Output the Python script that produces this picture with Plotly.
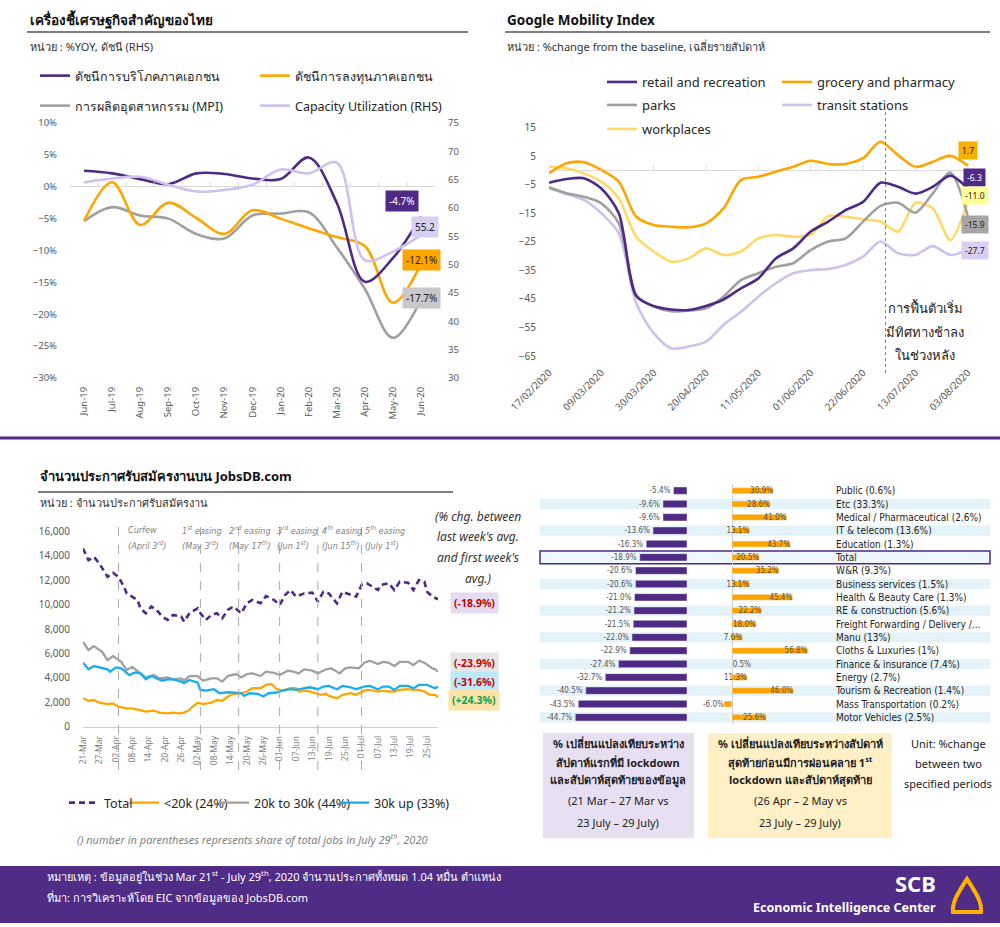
import plotly.graph_objects as go
import pandas as pd

W, H = 1000, 927
def X(px): return px / W
def Y(py): return 1 - py / H

FONT = "Tahoma, 'Noto Sans', 'DejaVu Sans', sans-serif"
NARROW = "'DejaVu Sans Condensed', 'DejaVu Sans', sans-serif"
PURPLE = '#4E2A84'
ORANGE = '#FFA500'
GRAY = '#A0A0A0'
LAV = '#CEC1EB'
YEL = '#FFD966'
BLUE = '#18AEEE'
TXT = '#262626'
TICK = '#595959'

# ---------------- Panel 1 : Thai economic indicators ----------------
months = ['Jun-19', 'Jul-19', 'Aug-19', 'Sep-19', 'Oct-19', 'Nov-19', 'Dec-19',
          'Jan-20', 'Feb-20', 'Mar-20', 'Apr-20', 'May-20', 'Jun-20']
pci = [2.5, 2.1, 1.2, 0.4, 2.1, 2.0, 1.3, 1.2, 4.6, -2.5, -14.9, -11.2, -4.7]
pii = [-5.4, 0.7, -6.0, -2.5, -4.9, -7.4, -3.7, -5.0, -6.5, -7.9, -9.3, -18.2, -12.1]
mpi = [-5.4, -3.2, -4.5, -5.0, -7.4, -8.1, -4.5, -4.2, -4.0, -9.5, -16.0, -23.7, -17.7]
capu = [64.5, 65.2, 65.5, 64.1, 62.9, 63.2, 64.1, 66.8, 66.1, 68.0, 50.8, 52.3, 55.2]
p1_names = ['ดัชนีการบริโภคภาคเอกชน', 'ดัชนีการลงทุนภาคเอกชน',
            'การผลิตอุตสาหกรรม (MPI)', 'Capacity Utilization (RHS)']

# ---------------- Panel 2 : Google mobility (weekly) ----------------
mob_start = '2020-02-17'
mob_weeks = 25
retail = [-4.3, -3.0, -2.7, -6.3, -15.0, -44.0, -47.5, -48.7, -48.9, -47.5, -45.2, -41.3, -37.8,
          -30.8, -27.3, -21.4, -17.9, -13.9, -11.0, -4.3, -5.7, -8.1, -5.7, -1.8, -6.3]
grocery = [-1.0, 2.5, 2.9, 0.2, -3.9, -16.2, -19.1, -19.7, -19.9, -18.5, -13.3, -3.3, -2.2,
           -0.4, 1.3, 3.4, 2.3, 2.3, 4.3, 10.1, 5.4, 1.3, 3.1, 5.2, 1.7]
parks = [-5.9, -8.0, -9.2, -11.5, -18.5, -43.6, -47.7, -49.3, -49.1, -48.3, -44.2, -38.4, -36.0,
         -33.7, -32.5, -27.9, -24.9, -23.8, -17.9, -12.4, -11.3, -14.8, -8.0, -0.7, -15.9]
transit = [-6.2, -8.2, -10.3, -15.0, -22.0, -46.5, -57.0, -62.3, -61.7, -60.0, -54.1, -49.5, -44.2,
           -39.5, -36.0, -34.9, -34.5, -33.1, -30.2, -24.9, -29.0, -29.6, -26.5, -29.6, -27.7]
workplaces = [1.3, 0.8, -1.0, -3.9, -9.8, -23.2, -28.4, -31.9, -30.8, -27.3, -29.6, -28.4, -23.8,
              -22.6, -23.2, -22.5, -16.0, -16.2, -17.1, -17.9, -21.4, -11.4, -13.3, -24.4, -11.0]
mob_names = ['retail and recreation', 'grocery and pharmacy', 'parks', 'transit stations', 'workplaces']
mob_note = ['การฟื้นตัวเริ่ม', 'มีทิศทางช้าลง', 'ในช่วงหลัง']
mob_marker_date = '2020-07-01'

# ---------------- Panel 3 : JobsDB postings (daily, day offset from 21 Mar) ----------------
jobs_start = '2020-03-21'
total_days = [0, 2, 4, 6, 9, 11, 13, 15, 16, 18, 20, 21, 23, 25, 27, 29, 31, 33, 36, 37,
              39, 42, 43, 45, 47, 49, 51, 53, 55, 58, 60, 62, 65, 67, 70, 72, 74, 76, 78, 81,
              84, 86, 88, 90, 93, 95, 98, 100, 102, 104, 106, 108, 109, 112, 114, 116, 119, 121, 123, 125,
              126, 128, 130]
total_jobs = [14610, 13650, 13920, 13370, 12280, 12610, 12280, 11460, 10920, 10650,
              10380, 9700, 9290, 9840, 9560, 9020, 8740, 9150, 9020, 8610,
              9290, 9700, 9290, 8740, 9150, 9290, 8880, 9560, 9840, 9290,
              10110, 10380, 10110, 10700, 10380, 9970, 10790, 11200, 10650, 10920,
              10980, 10240, 11060, 10920, 10110, 11060, 10790, 10650, 11610, 11750,
              11470, 11200, 11610, 11750, 11200, 11880, 11800, 11200, 12020, 11880,
              11060, 10650, 10440]
mid_days = [0, 2, 4, 7, 9, 11, 14, 16, 18, 21, 23, 26, 28, 31, 33, 36, 37, 39, 42, 44,
            47, 49, 51, 53, 56, 58, 60, 62, 65, 67, 70, 72, 75, 77, 79, 81, 84, 86, 89, 91,
            94, 96, 98, 101, 103, 105, 108, 110, 112, 114, 116, 119, 121, 123, 125, 128, 129, 130]
mid_jobs = [6950, 6270, 6600, 6130, 5450, 5780, 5310, 4630, 4900, 4360,
            4030, 4220, 3950, 4030, 3870, 3950, 3760, 4140, 4140, 3760,
            3950, 3950, 3680, 4140, 4300, 4030, 4300, 4360, 4140, 4500,
            4410, 4220, 4580, 4500, 4360, 4690, 4580, 4360, 4690, 4770,
            4360, 4770, 4850, 4770, 5230, 5400, 5130, 5310, 5230, 4960,
            5310, 5310, 5040, 5400, 5230, 4770, 4690, 4500]
high_days = [0, 2, 4, 6, 9, 10, 12, 14, 15, 17, 19, 21, 23, 25, 27, 29, 31, 33, 36, 37,
             39, 42, 43, 45, 48, 50, 53, 55, 58, 59, 61, 64, 66, 68, 71, 73, 76, 78, 81, 83,
             86, 88, 90, 93, 95, 98, 100, 103, 105, 108, 110, 112, 114, 116, 119, 121, 123, 126, 128, 129,
             130]
high_jobs = [5230, 4690, 4960, 4850, 4690, 4500, 4850, 4770, 4580, 4220,
             4440, 4360, 3870, 4140, 3950, 3760, 3870, 3870, 3680, 3550,
             3820, 3600, 3000, 2940, 3060, 2730, 2810, 2790, 2730, 2510,
             2730, 2680, 2460, 2730, 2790, 2940, 3060, 3000, 3140, 3220,
             3060, 3280, 3330, 3060, 3330, 3220, 3060, 3280, 3330, 3060,
             3280, 3280, 3000, 3330, 3330, 3140, 3410, 3410, 3220, 3140,
             3280]
low_days = [0, 2, 4, 6, 9, 11, 13, 16, 18, 21, 23, 26, 28, 31, 33, 35, 37, 39, 40, 42,
            44, 47, 49, 51, 53, 55, 58, 60, 62, 65, 67, 69, 71, 73, 76, 78, 79, 82, 84, 87,
            89, 90, 93, 95, 98, 100, 103, 105, 108, 110, 112, 114, 116, 119, 121, 123, 125, 127, 129, 130]
low_jobs = [2310, 2110, 2170, 1950, 1840, 1900, 1620, 1490, 1490, 1300,
            1220, 1300, 1140, 1080, 1140, 1080, 1140, 1360, 1620, 1950,
            1840, 1950, 2170, 2110, 2440, 2680, 2730, 2870, 3140, 3140,
            3410, 3490, 3060, 2940, 3140, 3140, 2870, 2940, 2790, 2600,
            2680, 2510, 2310, 2600, 2730, 2600, 2940, 3000, 2870, 2940,
            2870, 2870, 3000, 3060, 3000, 3000, 2870, 2600, 2600, 2390]
jobs_names = ['Total', '<20k (24%)', '20k to 30k (44%)', '30k up (33%)']
jobs_chg = ['(-18.9%)', '(-23.9%)', '(-31.6%)', '(+24.3%)']
ease_dates = ['2020-04-03', '2020-05-03', '2020-05-17', '2020-06-01', '2020-06-15', '2020-07-01']
ease_l1 = ['Curfew', '1<sup>st</sup> easing', '2<sup>nd</sup> easing', '3<sup>rd</sup> easing',
           '4<sup>th</sup> easing', '5<sup>th</sup> easing']
ease_l2 = ['(April 3<sup>rd</sup>)', '(May 3<sup>rd</sup>)', '(May 17<sup>th</sup>)',
           '(Jun 1<sup>st</sup>)', '(Jun 15<sup>th</sup>)', '(July 1<sup>st</sup>)']

# ---------------- Panel 4 : change by industry ----------------
industries = ['Public (0.6%)', 'Etc (33.3%)', 'Medical / Pharmaceutical (2.6%)', 'IT & telecom (13.6%)',
              'Education (1.3%)', 'Total', 'W&R (9.3%)', 'Business services (1.5%)',
              'Health & Beauty Care (1.3%)', 'RE & construction (5.6%)',
              'Freight Forwarding / Delivery /...', 'Manu (13%)', 'Cloths & Luxuries (1%)',
              'Finance & insurance (7.4%)', 'Energy (2.7%)', 'Tourism & Recreation (1.4%)',
              'Mass Transportation (0.2%)', 'Motor Vehicles (2.5%)']
chg_lockdown = [-5.4, -9.6, -9.6, -13.6, -16.3, -18.9, -20.6, -20.6, -21.0, -21.2,
                -21.5, -22.0, -22.9, -27.4, -32.7, -40.5, -43.5, -44.7]
chg_easing = [30.9, 28.6, 41.0, 13.1, 43.7, 20.5, 35.2, 13.1, 45.4, 22.2,
              18.0, 7.6, 56.8, 0.5, 11.3, 46.0, -6.0, 25.6]

# =====================================================================
fig = go.Figure()

# ---- panel 1 traces
p1_series = [(capu, p1_names[3], LAV, 'y2', 'legend2', 2),
             (mpi, p1_names[2], GRAY, 'y', 'legend2', 1),
             (pii, p1_names[1], ORANGE, 'y', 'legend', 2),
             (pci, p1_names[0], PURPLE, 'y', 'legend', 1)]
for vals, nm, col, yax, lg, rk in p1_series:
    fig.add_trace(go.Scatter(x=months, y=vals, name=nm, mode='lines',
                             line=dict(color=col, width=2.6, shape='spline', smoothing=1.0),
                             xaxis='x', yaxis=yax, legend=lg, legendrank=rk, hoverinfo='skip'))

# ---- panel 2 traces
mob_dates = pd.date_range(mob_start, periods=mob_weeks, freq='7D')
p2_series = [(transit, mob_names[3], LAV, 'legend11'),
             (workplaces, mob_names[4], YEL, 'legend5'),
             (parks, mob_names[2], GRAY, 'legend4'),
             (grocery, mob_names[1], ORANGE, 'legend10'),
             (retail, mob_names[0], PURPLE, 'legend3')]
for vals, nm, col, lg in p2_series:
    fig.add_trace(go.Scatter(x=mob_dates, y=vals, name=nm, mode='lines',
                             line=dict(color=col, width=2.6, shape='spline', smoothing=0.8),
                             xaxis='x2', yaxis='y3', legend=lg, hoverinfo='skip'))

# ---- panel 3 traces
j0 = pd.Timestamp(jobs_start)
def to_dates(days):
    return [j0 + pd.Timedelta(days=d) for d in days]
p3_series = [(low_days, low_jobs, jobs_names[1], ORANGE, 'solid', 'legend7'),
             (mid_days, mid_jobs, jobs_names[2], GRAY, 'solid', 'legend8'),
             (high_days, high_jobs, jobs_names[3], BLUE, 'solid', 'legend9'),
             (total_days, total_jobs, jobs_names[0], PURPLE, '6px,4px', 'legend6')]
for dd, vals, nm, col, dash, lg in p3_series:
    fig.add_trace(go.Scatter(x=to_dates(dd), y=vals, name=nm, mode='lines',
                             line=dict(color=col, width=2.3 if dash == 'solid' else 2.6, dash=dash),
                             xaxis='x3', yaxis='y4', legend=lg, hoverinfo='skip'))

# ---- panel 4 traces
fig.add_trace(go.Bar(x=chg_lockdown, y=industries, orientation='h', marker_color=PURPLE,
                     width=0.55, text=[f'{v:.1f}%' for v in chg_lockdown], textposition='outside',
                     textfont=dict(size=8, color='#555555', family=NARROW), cliponaxis=False,
                     constraintext='none', xaxis='x4', yaxis='y5', showlegend=False, hoverinfo='skip'))
easing_pos = ['outside' if (v < 0 or abs(v) < 5) else 'inside' for v in chg_easing]
fig.add_trace(go.Bar(x=chg_easing, y=industries, orientation='h', marker_color=ORANGE,
                     width=0.45, text=[f'{v:.1f}%' for v in chg_easing], textposition=easing_pos,
                     insidetextanchor='end', textfont=dict(size=8, color='#555555', family=NARROW),
                     insidetextfont=dict(size=8, color='#555555', family=NARROW),
                     outsidetextfont=dict(size=8, color='#555555', family=NARROW),
                     cliponaxis=False, constraintext='none',
                     xaxis='x5', yaxis='y5', showlegend=False, hoverinfo='skip'))

# =====================================================================
shapes = []
ann = []

def text(px, py, s, size=11, color=TXT, xanchor='left', yanchor='middle', bg=None, family=FONT, **kw):
    d = dict(x=X(px), y=Y(py), xref='paper', yref='paper', text=s, showarrow=False,
             xanchor=xanchor, yanchor=yanchor, font=dict(size=size, color=color, family=family))
    if bg:
        d['bgcolor'] = bg
    d.update(kw)
    ann.append(d)

def hline(px0, px1, py, color='#000000', width=1.2):
    shapes.append(dict(type='line', xref='paper', yref='paper', x0=X(px0), x1=X(px1),
                       y0=Y(py), y1=Y(py), line=dict(color=color, width=width)))

def rect(px0, py0, px1, py1, fill, line_color=None, width=0):
    shapes.append(dict(type='rect', xref='paper', yref='paper', x0=X(px0), x1=X(px1),
                       y0=Y(py1), y1=Y(py0), fillcolor=fill,
                       line=dict(color=line_color or fill, width=width)))

# ---- headers
text(28, 20, '<b>เครื่องชี้เศรษฐกิจสำคัญของไทย</b>', size=13.5, color='#111111')
hline(27, 468, 32)
text(28, 46, 'หน่วย : %YOY, ดัชนี (RHS)', size=11, color='#333333')

text(505, 20, '<b>Google Mobility Index</b>', size=13.5, color='#111111')
hline(505, 990, 32)
text(505, 46, 'หน่วย : %change from the baseline, เฉลี่ยรายสัปดาห์', size=11, color='#333333')

hline(0, 1000, 438, color=PURPLE, width=3)

text(38, 476, '<b>จำนวนประกาศรับสมัครงานบน JobsDB.com</b>', size=13, color='#111111')
hline(38, 453, 492)
text(38, 502, 'หน่วย : จำนวนประกาศรับสมัครงาน', size=11, color='#333333')

# ---- panel 1 decorations: ticks on the 0% line, end labels
for k in range(len(months) + 1):
    shapes.append(dict(type='line', xref='x', yref='y', x0=k - 0.5, x1=k - 0.5, y0=0, y1=0.7,
                       line=dict(color='#D9D9D9', width=1)))
p1_labels = [(pci[-1], 'y', f'{pci[-1]:.1f}%', PURPLE, '#FFFFFF', -19, 16),
             (capu[-1], 'y2', f'{capu[-1]:.1f}', '#D9CFF1', '#222222', 4, 8),
             (pii[-1], 'y', f'{pii[-1]:.1f}%', ORANGE, '#222222', 1, 4),
             (mpi[-1], 'y', f'{mpi[-1]:.1f}%', '#C8C8C8', '#222222', 1, 2)]
for v, yr, s, bg, fc, xs, ys in p1_labels:
    ann.append(dict(x=months[-1], y=v, xref='x', yref=yr, text=s, showarrow=False,
                    xshift=xs, yshift=ys, bgcolor=bg, borderpad=3,
                    font=dict(size=10, color=fc, family=FONT)))

# ---- panel 2 decorations
for d in pd.date_range(mob_start, mob_dates[-1], freq='21D'):
    shapes.append(dict(type='line', xref='x2', yref='y3', x0=d, x1=d, y0=0, y1=1.8,
                       line=dict(color='#D9D9D9', width=1)))
shapes.append(dict(type='line', xref='x2', yref='paper', x0=mob_marker_date, x1=mob_marker_date,
                   y0=Y(373), y1=Y(112), line=dict(color='#7F7F7F', width=1, dash='dot')))
p2_labels = [(grocery[-1], '#F5B000', '#222222', 0, 15),
             (retail[-1], PURPLE, '#FFFFFF', 7, 11),
             (workplaces[-1], '#FFFF99', '#222222', 7, 6),
             (parks[-1], '#A6A6A6', '#222222', 7, -9),
             (transit[-1], '#D9CFF1', '#222222', 7, -1)]
for v, bg, fc, xs, ys in p2_labels:
    ann.append(dict(x=mob_dates[-1], y=v, xref='x2', yref='y3', text=f'{v:.1f}', showarrow=False,
                    xshift=xs, yshift=ys, bgcolor=bg, borderpad=3,
                    font=dict(size=8.5, color=fc, family=FONT)))
for i, s in enumerate(mob_note):
    text(925, 308 + 23.5 * i, s, size=13, color='#222222', xanchor='center')

# ---- panel 3 decorations
for i, d in enumerate(ease_dates):
    shapes.append(dict(type='line', xref='x3', yref='paper', x0=d, x1=d, y0=Y(770), y1=Y(523),
                       line=dict(color='#AAAAAA', width=1, dash='dash')))
ease_px = [126, 180, 227, 275, 320, 363]
for i in range(len(ease_dates)):
    text(ease_px[i], 530, '<i>' + ease_l1[i] + '</i>', size=9, color='#7F7F7F', family=NARROW)
    text(ease_px[i], 545, '<i>' + ease_l2[i] + '</i>', size=9, color='#7F7F7F', family=NARROW)
for i, s in enumerate(['(% chg. between', "last week's avg.", "and first week's", 'avg.)']):
    text(478, 516 + 20.7 * i, '<i>' + s + '</i>', size=12, color='#333333', xanchor='center')
chg_style = [(603, '#E4DDF2', '#C00000'), (663, '#E6E6E6', '#C00000'),
             (682, '#BDE9FA', '#C00000'), (700, '#FFE2A6', '#00A651')]
for s, (py, bg, fc) in zip(jobs_chg, chg_style):
    text(474, py, '<b>' + s + '</b>', size=10.5, color=fc, xanchor='center', bg=bg, borderpad=3)
text(75, 839, '<i>() number in parentheses represents share of total jobs in July 29<sup>th</sup>, 2020</i>',
     size=11, color='#7F7F7F')

# ---- panel 4 decorations
for i in range(len(industries)):
    if i % 2 == 1:
        shapes.append(dict(type='rect', xref='paper', yref='y5', x0=X(540), x1=X(990),
                           y0=i - 0.38, y1=i + 0.38, fillcolor='#E4F3FA', line=dict(width=0),
                           layer='below'))
ti = industries.index('Total')
shapes.append(dict(type='rect', xref='paper', yref='y5', x0=X(540), x1=X(990),
                   y0=ti - 0.48, y1=ti + 0.48, fillcolor='#EEF7FC',
                   line=dict(color=PURPLE, width=1.5), layer='below'))

rect(543, 733, 694, 838, '#E6E0F2')
rect(708, 733, 892, 838, '#FFF0C6')
box1 = ['<b>% เปลี่ยนแปลงเทียบระหว่าง</b>', '<b>สัปดาห์แรกที่มี lockdown</b>',
        '<b>และสัปดาห์สุดท้ายของข้อมูล</b>', '(21 Mar – 27 Mar vs', '23 July – 29 July)']
box2 = ['<b>% เปลี่ยนแปลงเทียบระหว่างสัปดาห์</b>', '<b>สุดท้ายก่อนมีการผ่อนคลาย 1<sup>st</sup></b>',
        '<b>lockdown และสัปดาห์สุดท้าย</b>', '(26 Apr – 2 May vs', '23 July – 29 July)']
line_y = [743, 762, 780, 800, 822]
for s, py in zip(box1, line_y):
    text(618, py, s, size=11, color='#222222', xanchor='center')
for s, py in zip(box2, line_y):
    text(800, py, s, size=11, color='#222222', xanchor='center')
for s, py in zip(['Unit: %change', 'between two', 'specified periods'], [743, 763, 783]):
    text(948, py, s, size=11, color='#222222', xanchor='center')

# ---- footer
rect(0, 866, 1000, 923, '#4F2C85')
text(45, 876, 'หมายเหตุ : ข้อมูลอยู่ในช่วง Mar 21<sup>st</sup> - July 29<sup>th</sup>, 2020 '
     'จำนวนประกาศทั้งหมด 1.04 หมื่น ตำแหน่ง', size=11, color='#FFFFFF')
text(45, 897, 'ที่มา: การวิเคราะห์โดย EIC จากข้อมูลของ JobsDB.com', size=11, color='#FFFFFF')
text(938, 883, '<b>SCB</b>', size=22, color='#FFFFFF', xanchor='right')
text(938, 907, '<b>Economic Intelligence Center</b>', size=12.5, color='#FFFFFF', xanchor='right')
logo = [(953, 912), (952, 902), (958, 893), (967, 879), (976, 893), (982, 902), (981, 912)]
path = 'M {:.4f},{:.4f} '.format(X(logo[0][0]), Y(logo[0][1]))
path += 'C {:.4f},{:.4f} {:.4f},{:.4f} {:.4f},{:.4f} '.format(X(logo[1][0]), Y(logo[1][1]), X(logo[2][0]), Y(logo[2][1]), X(logo[3][0]), Y(logo[3][1]))
path += 'C {:.4f},{:.4f} {:.4f},{:.4f} {:.4f},{:.4f} Z'.format(X(logo[4][0]), Y(logo[4][1]), X(logo[5][0]), Y(logo[5][1]), X(logo[6][0]), Y(logo[6][1]))
shapes.append(dict(type='path', xref='paper', yref='paper', path=path,
                   line=dict(color='#FFB000', width=4)))

# =====================================================================
tickf = dict(size=9.5, color=TICK, family=FONT)
leg_common = dict(orientation='h', xanchor='left', yanchor='middle', bgcolor='rgba(0,0,0,0)',
                  traceorder='normal', itemwidth=30, entrywidthmode='pixels')
leg_jobs = dict(orientation='h', xanchor='left', yanchor='middle', bgcolor='rgba(0,0,0,0)',
                itemwidth=30, font=dict(size=12.5, color=TXT, family=FONT))
leg_mob = dict(orientation='h', xanchor='left', yanchor='middle', bgcolor='rgba(0,0,0,0)',
               itemwidth=30, font=dict(size=13, color=TXT, family=FONT))

fig.update_layout(
    width=W, height=H, margin=dict(l=0, r=0, t=0, b=0, autoexpand=False),
    paper_bgcolor='white', plot_bgcolor='rgba(0,0,0,0)',
    font=dict(family=FONT, color=TXT),
    showlegend=True,
    uniformtext=dict(minsize=8, mode='show'),
    barmode='overlay',
    # panel 1
    xaxis=dict(domain=[X(70), X(435)], type='category', range=[-0.5, 12.5], tickangle=-90,
               tickfont=tickf, showgrid=False, zeroline=False, showline=False, ticks='',
               anchor='y', ticklabelstandoff=6, automargin=False),
    yaxis=dict(domain=[Y(378), Y(123)], range=[-30, 10], dtick=5, ticksuffix='%', tickfont=tickf,
               showgrid=False, zeroline=True, zerolinecolor='#D9D9D9', zerolinewidth=1,
               anchor='x', ticklabelstandoff=12, automargin=False),
    yaxis2=dict(overlaying='y', side='right', range=[30, 75], dtick=5, tickfont=tickf,
                showgrid=False, zeroline=False, anchor='x', ticklabelstandoff=12, automargin=False),
    # panel 2
    xaxis2=dict(domain=[X(549), X(969)], type='date', range=['2020-02-17', '2020-08-03 12:00'],
                tick0=mob_start, dtick=21 * 86400000, tickformat='%d/%m/%Y', tickangle=-45,
                tickfont=dict(size=10, color=TICK, family=FONT), showgrid=False, zeroline=False,
                showline=False, ticks='', anchor='y3', ticklabelstandoff=8, automargin=False),
    yaxis3=dict(domain=[Y(356), Y(127.7)], range=[-65, 15], tick0=5, dtick=10,
                tickfont=dict(size=10, color=TICK, family=FONT), showgrid=False, zeroline=True,
                zerolinecolor='#D9D9D9', zerolinewidth=1, anchor='x2', ticklabelstandoff=12,
                automargin=False),
    # panel 3
    xaxis3=dict(domain=[X(83), X(438)], type='date', range=['2020-03-21', '2020-07-29'],
                tick0=jobs_start, dtick=6 * 86400000, tickformat='%d-%b', tickangle=-90,
                tickfont=dict(size=8.5, color='#7F7F7F', family=FONT), showgrid=False,
                zeroline=False, showline=True, linecolor='#D0D0D0', ticks='', anchor='y4',
                ticklabelstandoff=5, automargin=False),
    yaxis4=dict(domain=[Y(726.5), Y(531.5)], range=[0, 16000], dtick=2000, tickformat=',',
                tickfont=dict(size=10, color=TICK, family=FONT), showgrid=False, zeroline=False,
                anchor='x3', ticklabelstandoff=12, automargin=False),
    # panel 4
    xaxis4=dict(domain=[X(540), X(687)], range=[-58.8, 0], visible=False, anchor='y5',
                automargin=False),
    xaxis5=dict(domain=[X(700), X(835)], range=[-24.06, 77.4], showticklabels=False,
                showgrid=False, zeroline=True, zerolinecolor='#D0D0D0', zerolinewidth=1,
                showline=False, ticks='', anchor='y5', automargin=False),
    yaxis5=dict(domain=[Y(724), Y(484)], type='category', range=[17.5, -0.5], side='right',
                anchor='free', position=X(833), showgrid=False, zeroline=False, showline=False,
                ticks='', tickmode='array', tickvals=industries, ticktext=industries,
                tickfont=dict(size=10, color='#222222', family=NARROW),
                ticklabelstandoff=2, automargin=False),
    legend=dict(x=X(35), y=Y(76), entrywidth=175, font=dict(size=12.5, color=TXT, family=FONT), **leg_common),
    legend2=dict(x=X(35), y=Y(106), entrywidth=175, font=dict(size=12.5, color=TXT, family=FONT), **leg_common),
    legend3=dict(x=X(602), y=Y(82), **leg_mob),
    legend10=dict(x=X(777), y=Y(82), **leg_mob),
    legend4=dict(x=X(602), y=Y(105), **leg_mob),
    legend11=dict(x=X(777), y=Y(105), **leg_mob),
    legend5=dict(x=X(602), y=Y(129), **leg_mob),
    legend6=dict(x=X(64), y=Y(803), **leg_jobs),
    legend7=dict(x=X(124), y=Y(803), **leg_jobs),
    legend8=dict(x=X(214), y=Y(803), **leg_jobs),
    legend9=dict(x=X(334), y=Y(803), **leg_jobs),
    shapes=shapes,
    annotations=ann,
)

fig.write_html('out.html', config={'displayModeBar': False},
               post_script="document.body.style.margin='0px';document.body.style.overflow='hidden';")
